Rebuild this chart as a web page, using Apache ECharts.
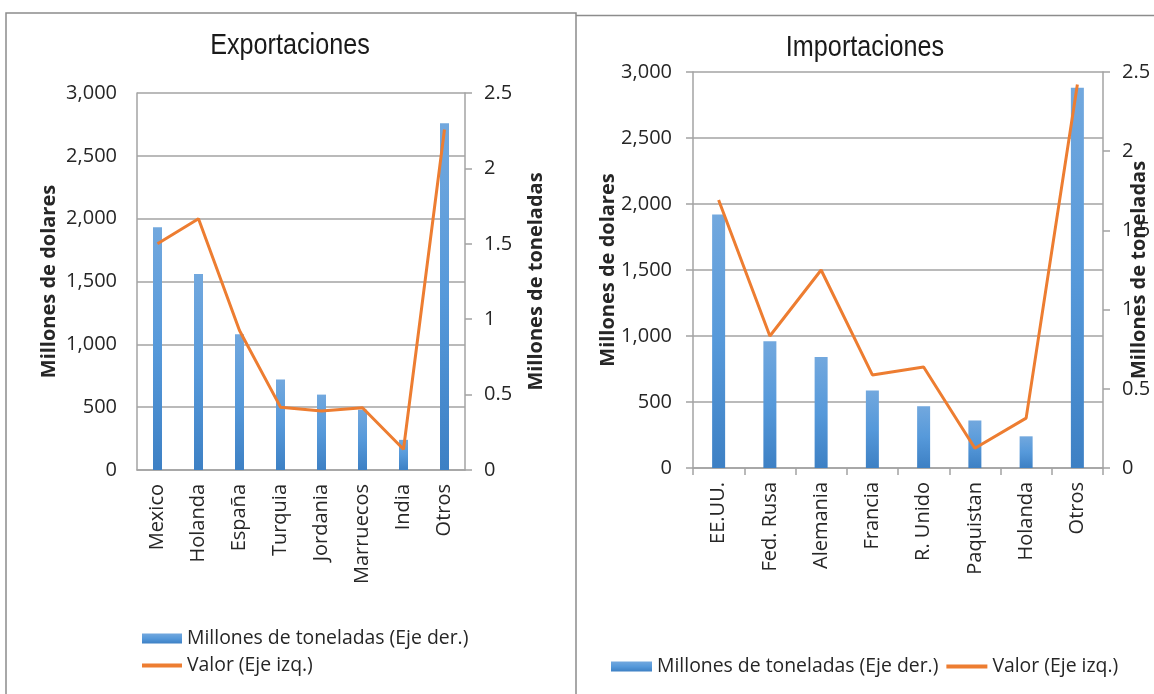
<!DOCTYPE html>
<html>
<head>
<meta charset="utf-8">
<script src="https://cdn.jsdelivr.net/npm/echarts@6/dist/echarts.min.js"></script>
<style>
  html, body { margin: 0; padding: 0; background: #ffffff; }
  #chart { width: 1154px; height: 694px; }
</style>
</head>
<body>
<div id="chart"></div>
<script>
// Exportaciones
const expCategories = ['Mexico', 'Holanda', 'España', 'Turquia', 'Jordania', 'Marruecos', 'India', 'Otros'];
const expTonnes = [1.61, 1.30, 0.90, 0.60, 0.50, 0.40, 0.20, 2.30];      // millones de toneladas (eje der.)
const expValue = [1800, 2000, 1110, 500, 470, 495, 165, 2710];           // millones de dólares (eje izq.)

// Importaciones
const impCategories = ['EE.UU.', 'Fed. Rusa', 'Alemania', 'Francia', 'R. Unido', 'Paquistan', 'Holanda', 'Otros'];
const impTonnes = [1.60, 0.80, 0.70, 0.49, 0.39, 0.30, 0.20, 2.40];
const impValue = [2030, 1000, 1500, 705, 765, 150, 378, 2905];

const leftTicks = { min: 0, max: 3000, interval: 500 };
const rightTicks = { min: 0, max: 2.5, interval: 0.5 };

const barName = 'Millones de toneladas (Eje der.)';
const lineName = 'Valor (Eje izq.)';

const FONT = '"Open Sans", "Noto Sans", sans-serif';
const TXT = '#262626';
const GRID = '#a3a3a3';
const ORANGE = '#ed7d31';

const barColor = new echarts.graphic.LinearGradient(0, 0, 0, 1, [
  { offset: 0, color: '#72a8de' },
  { offset: 0.5, color: '#5699da' },
  { offset: 1, color: '#3d80c4' }
]);

function fmtThousands(v) {
  return String(v).replace(/\B(?=(\d{3})+(?!\d))/g, ',');
}

function xAxis(gridIndex, cats, ticks) {
  return {
    type: 'category', gridIndex, data: cats,
    axisLine: { show: true, lineStyle: { color: GRID, width: 1.5 } },
    axisTick: { show: ticks, length: 7, lineStyle: { color: GRID, width: 1.5 } },
    axisLabel: { rotate: 90, margin: 14, color: TXT, fontFamily: FONT, fontSize: 20 }
  };
}

function leftAxis(gridIndex, ticks, gap) {
  return {
    type: 'value', gridIndex, position: 'left',
    min: leftTicks.min, max: leftTicks.max, interval: leftTicks.interval,
    name: 'Millones de dolares', nameLocation: 'middle', nameGap: gap, nameRotate: 90,
    nameMoveOverlap: false,
    nameTextStyle: { color: TXT, fontFamily: FONT, fontSize: 20, fontWeight: 'bold' },
    axisLine: { show: true, lineStyle: { color: GRID, width: 1.5 } },
    axisTick: { show: ticks, length: 7, lineStyle: { color: GRID, width: 1.5 } },
    axisLabel: { margin: ticks ? 21 : 20, color: TXT, fontFamily: FONT, fontSize: 20, formatter: fmtThousands },
    splitLine: { show: true, lineStyle: { color: GRID, width: 1.5 } }
  };
}

function rightAxis(gridIndex, gap) {
  return {
    type: 'value', gridIndex, position: 'right',
    min: rightTicks.min, max: rightTicks.max, interval: rightTicks.interval,
    name: 'Millones de toneladas', nameLocation: 'middle', nameGap: gap, nameRotate: 90,
    nameMoveOverlap: false,
    nameTextStyle: { color: TXT, fontFamily: FONT, fontSize: 20, fontWeight: 'bold' },
    axisLine: { show: true, lineStyle: { color: GRID, width: 1.5 } },
    axisTick: { show: true, length: 7, lineStyle: { color: GRID, width: 1.5 } },
    axisLabel: { margin: 19, color: TXT, fontFamily: FONT, fontSize: 20 },
    splitLine: { show: false }
  };
}

function barSeries(x, y, data, width) {
  return {
    name: barName, type: 'bar', xAxisIndex: x, yAxisIndex: y, data,
    barWidth: width, itemStyle: { color: barColor }, z: 2
  };
}

function lineSeries(x, y, data) {
  return {
    name: lineName, type: 'line', xAxisIndex: x, yAxisIndex: y, data,
    symbol: 'none', lineStyle: { color: ORANGE, width: 3 }, itemStyle: { color: ORANGE }, z: 3
  };
}

const legendText = { color: TXT, fontFamily: FONT, fontSize: 19.4 };
const legendData = [
  { name: barName, icon: 'rect' },
  { name: lineName, itemStyle: { opacity: 0 } }
];
const legendLine = { color: ORANGE, width: 4 };

// Chart titles: a narrow sans look, drawn as text with a horizontal squeeze
function titleText(text, cx, top) {
  return {
    type: 'text', x: cx, y: top, scaleX: 0.84, silent: true,
    style: {
      text, fill: '#1a1a1a', align: 'center', verticalAlign: 'top',
      font: 'normal 30px "Liberation Sans", Arial, sans-serif'
    }
  };
}

const chart = echarts.init(document.getElementById('chart'), null, { renderer: 'canvas' });
chart.setOption({
  backgroundColor: '#ffffff',
  animation: false,
  grid: [
    { left: 137, top: 93, width: 328, height: 377, outerBoundsMode: 'none' },
    { left: 693, top: 72, width: 410, height: 396, outerBoundsMode: 'none' }
  ],
  xAxis: [xAxis(0, expCategories, false), xAxis(1, impCategories, true)],
  yAxis: [leftAxis(0, false, 78), rightAxis(0, 61), leftAxis(1, true, 75), rightAxis(1, 26)],
  legend: [
    { orient: 'vertical', left: 140, top: 629, padding: 0, itemWidth: 40, itemHeight: 10, itemGap: 8,
      textStyle: legendText, lineStyle: legendLine, data: legendData, selectedMode: false },
    { orient: 'horizontal', left: 611, top: 657, padding: 0, itemWidth: 41, itemHeight: 10, itemGap: 6,
      textStyle: legendText, lineStyle: legendLine, data: legendData, selectedMode: false }
  ],
  series: [
    barSeries(0, 1, expTonnes, 9),
    lineSeries(0, 0, expValue),
    barSeries(1, 3, impTonnes, 13),
    lineSeries(1, 2, impValue)
  ],
  graphic: [
    { type: 'rect', shape: { x: 6, y: 13, width: 570, height: 700 },
      style: { fill: 'none', stroke: '#8c8c8c', lineWidth: 1.5 }, silent: true },
    { type: 'line', shape: { x1: 576, y1: 15.5, x2: 1154, y2: 15.5 },
      style: { stroke: '#8c8c8c', lineWidth: 1.5 }, silent: true },
    titleText('Exportaciones', 290, 31),
    titleText('Importaciones', 865, 33)
  ]
});
</script>
</body>
</html>
